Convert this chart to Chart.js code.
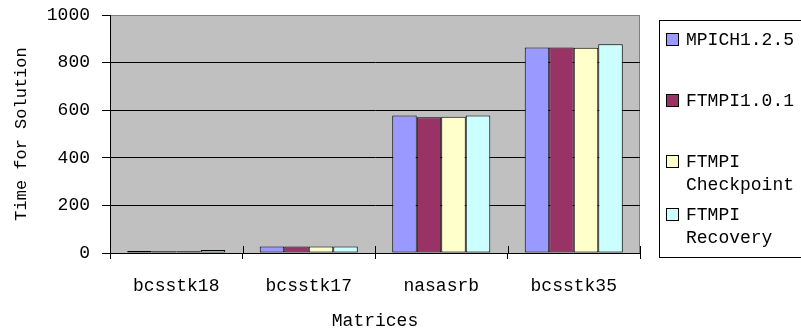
<!DOCTYPE html>
<html>
<head>
<meta charset="utf-8">
<script src="https://cdn.jsdelivr.net/npm/chart.js@4.4.1/dist/chart.umd.min.js"></script>
<style>
  html, body { margin: 0; padding: 0; background: #fff; }
  #wrap { width: 801px; height: 332px; }
</style>
</head>
<body>
<div id="wrap"><canvas id="c" width="801" height="332"></canvas></div>
<script>
// Solution time per test matrix for each MPI implementation
const matrices = ['bcsstk18', 'bcsstk17', 'nasasrb', 'bcsstk35'];
const seriesNames = ['MPICH1.2.5', 'FTMPI1.0.1', 'FTMPI Checkpoint', 'FTMPI Recovery'];
const mpich = [8, 27, 578, 863];
const ftmpi = [7, 27, 570, 863];
const ftmpiCheckpoint = [7, 27, 572, 862];
const ftmpiRecovery = [13, 27, 578, 877];
const yTicks = [0, 200, 400, 600, 800, 1000];

const seriesValues = [mpich, ftmpi, ftmpiCheckpoint, ftmpiRecovery];
const fills = ['#9999FF', '#993366', '#FFFFCC', '#CCFFFF'];
const FONT = '"Liberation Mono", "DejaVu Sans Mono", monospace';

// Grey plot background with a thin grey frame, like a classic spreadsheet chart
const plotBackground = {
  id: 'plotBackground',
  beforeDraw(chart) {
    const { ctx, chartArea: a } = chart;
    ctx.save();
    ctx.fillStyle = '#C0C0C0';
    ctx.fillRect(a.left, a.top, a.right - a.left, a.bottom - a.top);
    ctx.strokeStyle = '#808080';
    ctx.lineWidth = 1;
    ctx.beginPath();
    ctx.moveTo(a.left, a.top + 0.5);
    ctx.lineTo(a.right - 0.5, a.top + 0.5);
    ctx.lineTo(a.right - 0.5, a.bottom);
    ctx.stroke();
    ctx.restore();
  }
};

// Category separators cross the x axis line
const crossTicks = {
  id: 'crossTicks',
  afterDatasetsDraw(chart) {
    const { ctx, chartArea: a } = chart;
    const xs = chart.scales.x;
    ctx.save();
    ctx.strokeStyle = '#000';
    ctx.lineWidth = 1;
    for (let i = 0; i <= matrices.length; i++) {
      const x = Math.round(xs.getPixelForValue(i - 0.5)) + 0.5;
      ctx.beginPath();
      ctx.moveTo(x, a.bottom - 7);
      ctx.lineTo(x, a.bottom);
      ctx.stroke();
    }
    ctx.restore();
  }
};

// Boxed legend on the right with wrapped labels
const boxLegend = {
  id: 'boxLegend',
  afterDraw(chart) {
    const { ctx } = chart;
    ctx.save();
    ctx.strokeStyle = '#000';
    ctx.lineWidth = 1;
    ctx.strokeRect(659.5, 20.5, 160, 237);
    const rows = [[39], [100], [161, 184], [214, 237]];
    ctx.font = '18px ' + FONT;
    ctx.textBaseline = 'middle';
    chart.data.datasets.forEach((ds, i) => {
      const lines = ds.label.split(' ');
      const ys = rows[i];
      ctx.fillStyle = ds.backgroundColor;
      ctx.fillRect(666, ys[0] - 6, 13, 13);
      ctx.strokeRect(666.5, ys[0] - 5.5, 12, 12);
      ctx.fillStyle = '#000';
      lines.forEach((t, k) => ctx.fillText(t, 686, ys[k] + 1));
    });
    ctx.restore();
  }
};

new Chart(document.getElementById('c'), {
  type: 'bar',
  data: {
    labels: matrices,
    datasets: seriesNames.map((name, i) => ({
      label: name,
      data: seriesValues[i],
      backgroundColor: fills[i],
      borderColor: '#000',
      borderWidth: 1,
      borderSkipped: false,
      categoryPercentage: 0.74,
      barPercentage: 1
    }))
  },
  options: {
    responsive: false,
    animation: false,
    devicePixelRatio: 1,
    layout: { padding: { left: 0, top: 15, right: 161, bottom: 0 } },
    plugins: { legend: { display: false }, tooltip: { enabled: false } },
    scales: {
      x: {
        afterFit(s) { s.height = 79; s.paddingLeft = 0; s.paddingRight = 0; },
        grid: { display: true, offset: true, drawOnChartArea: false, tickLength: 6, color: '#000', tickColor: '#000' },
        border: { display: true, color: '#000', width: 1 },
        ticks: { color: '#000', font: { family: FONT, size: 18 }, padding: 16, maxRotation: 0 },
        title: { display: true, text: 'Matrices', color: '#000', font: { family: FONT, size: 18 }, padding: { top: 0, bottom: 0 } }
      },
      y: {
        min: 0,
        max: 1000,
        afterFit(s) { s.width = 110; s.paddingTop = 0; s.paddingBottom = 0; },
        afterBuildTicks(s) { s.ticks = yTicks.map(v => ({ value: v })); },
        grid: {
          color: ctx => (ctx.tick && ctx.tick.value === 1000 ? '#808080' : '#000'),
          tickColor: '#000',
          tickLength: 8,
          lineWidth: 1
        },
        border: { display: true, color: '#000', width: 1 },
        ticks: { color: '#000', font: { family: FONT, size: 18 }, padding: 12, callback: v => String(v) },
        title: { display: true, text: 'Time for Solution', color: '#000', font: { family: FONT, size: 17 }, padding: { top: 11, bottom: 0 } }
      }
    }
  },
  plugins: [plotBackground, crossTicks, boxLegend]
});
</script>
</body>
</html>
